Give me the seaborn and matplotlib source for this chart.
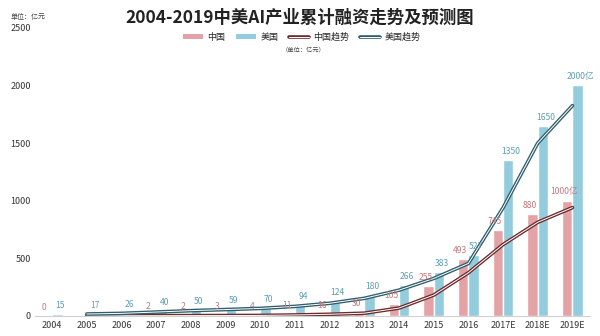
import numpy as np
import pandas as pd
import matplotlib
matplotlib.use("Agg")
import matplotlib.pyplot as plt
import matplotlib.patheffects as pe
from matplotlib.patches import Patch
from matplotlib.lines import Line2D
import seaborn as sns

years = ["2004", "2005", "2006", "2007", "2008", "2009", "2010", "2011",
         "2012", "2013", "2014", "2015", "2016", "2017E", "2018E", "2019E"]
china = [0, 1, 1, 2, 2, 3, 4, 11, 16, 30, 105, 255, 493, 745, 880, 1000]
usa = [15, 17, 26, 40, 50, 59, 70, 94, 124, 180, 266, 383, 527, 1350, 1650, 2000]
china_labels = ["0", "", "", "2", "2", "3", "4", "11", "16", "30", "105",
                "255", "493", "745", "880", "1000亿"]
usa_labels = ["15", "17", "26", "40", "50", "59", "70", "94", "124", "180",
              "266", "383", "527", "1350", "1650", "2000亿"]
yticks = [0, 500, 1000, 1500, 2000, 2500]

C_CN = "#e3a2a5"
C_US = "#93cddd"
C_CN_TXT = "#c27a7e"
C_US_TXT = "#5f9fb3"
C_CN_LINE = "#6e2a2c"
C_US_LINE = "#2f5d6b"

sns.set_theme(style="white")
plt.rcParams["font.family"] = ["Noto Sans CJK SC", "DejaVu Sans"]

df = pd.DataFrame({
    "year": years * 2,
    "value": china + usa,
    "series": ["中国"] * len(years) + ["美国"] * len(years),
})

fig = plt.figure(figsize=(6, 3.36), dpi=100)
ax = fig.add_axes([0.058, 0.06, 0.925, 0.857])

sns.barplot(data=df, x="year", y="value", hue="series", order=years,
            hue_order=["中国", "美国"], palette=[C_CN, C_US],
            width=0.6, gap=0, saturation=1, errorbar=None, legend=False, ax=ax)

# value labels above each bar, nudged apart so neighbours don't collide
for cont, labels, col, dx in zip(ax.containers, [china_labels, usa_labels],
                                 [C_CN_TXT, C_US_TXT], [-2, 2]):
    for bar, lab in zip(cont, labels):
        if not lab:
            continue
        ax.annotate(lab, (bar.get_x() + bar.get_width() / 2, bar.get_height()),
                    xytext=(dx, 3), textcoords="offset points",
                    ha="center", va="bottom", fontsize=6.2, color=col)

# two-period moving-average trend lines
x = np.arange(len(years))
cn_trend = pd.Series(china, dtype=float).rolling(2).mean()
us_trend = pd.Series(usa, dtype=float).rolling(2).mean()
for trend, dark in [(cn_trend, C_CN_LINE), (us_trend, C_US_LINE)]:
    sns.lineplot(x=x, y=trend.values, ax=ax, color="white", linewidth=0.7,
                 path_effects=[pe.Stroke(linewidth=2.6, foreground=dark), pe.Normal()])

ax.set_ylim(0, 2500)
ax.set_xlim(-0.5, len(years) - 0.5)
ax.set_yticks(yticks)
ax.set_xlabel("")
ax.set_ylabel("")
ax.tick_params(axis="both", length=0, labelsize=6.5, colors="#333333")
ax.tick_params(axis="x", pad=4)
ax.tick_params(axis="y", pad=3)
for side in ["top", "right", "left"]:
    ax.spines[side].set_visible(False)
ax.spines["bottom"].set_color("#d0d0d0")
ax.spines["bottom"].set_linewidth(0.8)
ax.grid(False)

fig.text(0.5, 0.947, "2004-2019中美AI产业累计融资走势及预测图", ha="center",
         va="center", fontsize=12.5, fontweight="bold", color="#222222")
fig.text(0.017, 0.95, "单位：亿元", ha="left", va="center", fontsize=5,
         color="#444444")
fig.text(0.505, 0.852, "（单位：亿元）", ha="center", va="center", fontsize=4.5,
         color="#444444")

handles = [
    Patch(facecolor=C_CN, edgecolor="none"),
    Patch(facecolor=C_US, edgecolor="none"),
    Line2D([0], [0], color="white", linewidth=0.7,
           path_effects=[pe.Stroke(linewidth=2.6, foreground=C_CN_LINE), pe.Normal()]),
    Line2D([0], [0], color="white", linewidth=0.7,
           path_effects=[pe.Stroke(linewidth=2.6, foreground=C_US_LINE), pe.Normal()]),
]
fig.legend(handles, ["中国", "美国", "中国趋势", "美国趋势"], loc="center",
           bbox_to_anchor=(0.503, 0.89), ncol=4, frameon=False, fontsize=6.5,
           handlelength=2.2, handleheight=0.5, columnspacing=1.2,
           handletextpad=0.5)

fig.savefig("out.png", dpi=100, facecolor="white")
